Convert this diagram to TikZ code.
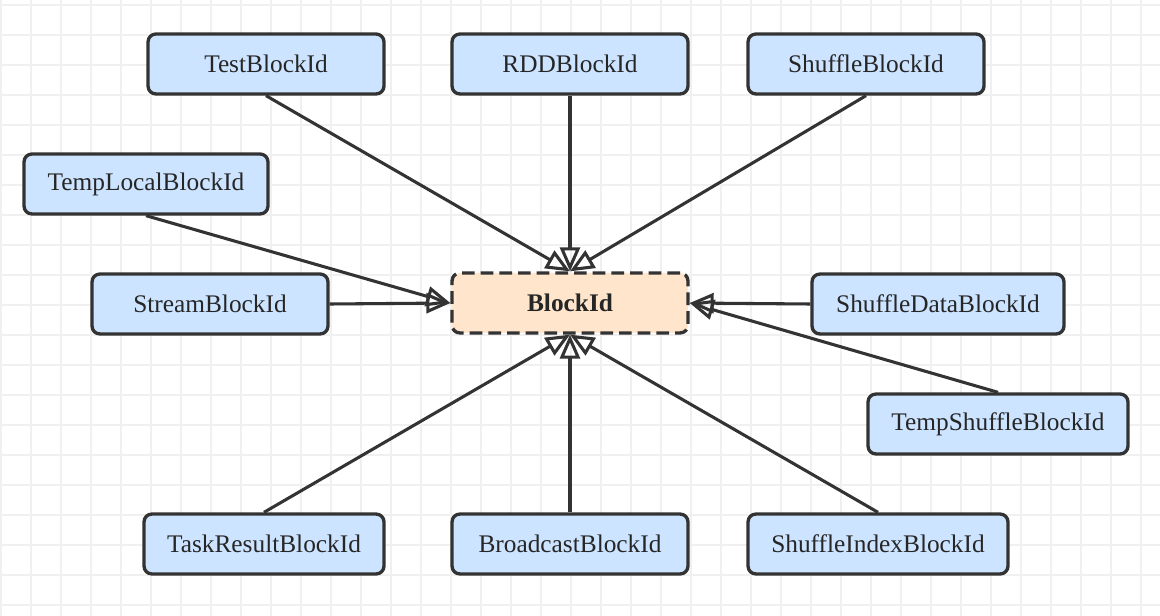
\documentclass[tikz,border=0pt]{standalone}
\usepackage{fontspec}
\setmainfont{Liberation Serif}
\usetikzlibrary{arrows.meta}

\definecolor{boxblue}{RGB}{204,228,255}
\definecolor{boxpeach}{RGB}{255,229,204}
\definecolor{edgegray}{RGB}{51,51,51}
\definecolor{gridgray}{RGB}{240,240,240}

\begin{document}
\begin{tikzpicture}[
    x=0.75pt, y=-0.75pt,
    idbox/.style={rectangle, rounded corners=6pt, draw=edgegray, line width=2.5pt, fill=boxblue,
        minimum width=177pt, minimum height=45pt, text=black!85,
        font=\fontsize{19}{22}\selectfont},
    basebox/.style={idbox, fill=boxpeach, dash pattern=on 9.5pt off 4.5pt,
        font=\fontsize{19}{22}\selectfont\bfseries},
    inherit/.style={draw=edgegray, line width=2.3pt, -{Triangle[open, length=18pt, width=15pt]}},
    gridline/.style={draw=gridgray, line width=1.3pt}
]

% Background and grid
\useasboundingbox (0,0) rectangle (1160,616);
\fill[white] (0,0) rectangle (1160,616);
\foreach \gx in {1,31,...,1160} \draw[gridline] (\gx,0) -- (\gx,616);
\foreach \gy in {5,35,...,616} \draw[gridline] (0,\gy) -- (1160,\gy);

% Base class
\node[basebox] (blockid) at (570,303) {BlockId};

% Subclasses, top row
\node[idbox] (test) at (266,64) {TestBlockId};
\node[idbox] (rdd) at (570,64) {RDDBlockId};
\node[idbox] (shuffle) at (866,64) {ShuffleBlockId};

% Subclasses, left and right
\node[idbox, minimum width=183pt] (templocal) at (146,184) {TempLocalBlockId};
\node[idbox] (stream) at (210,304) {StreamBlockId};
\node[idbox, minimum width=189pt] (shuffledata) at (938,304) {ShuffleDataBlockId};
\node[idbox, minimum width=195pt] (tempshuffle) at (998,424) {TempShuffleBlockId};

% Subclasses, bottom row
\node[idbox, minimum width=180pt] (taskresult) at (264,544) {TaskResultBlockId};
\node[idbox] (broadcast) at (570,544) {BroadcastBlockId};
\node[idbox, minimum width=195pt] (shuffleindex) at (878,544) {ShuffleIndexBlockId};

% Inheritance arrows
\draw[inherit] (test.south) -- (blockid.north);
\draw[inherit] (rdd.south) -- (blockid.north);
\draw[inherit] (shuffle.south) -- (blockid.north);
\draw[inherit] (templocal.south) -- (blockid.west);
\draw[inherit] (stream.east) -- (blockid.west);
\draw[inherit] (shuffledata.west) -- (blockid.east);
\draw[inherit] (tempshuffle.north) -- (blockid.east);
\draw[inherit] (taskresult.north) -- (blockid.south);
\draw[inherit] (broadcast.north) -- (blockid.south);
\draw[inherit] (shuffleindex.north) -- (blockid.south);

\end{tikzpicture}
\end{document}
